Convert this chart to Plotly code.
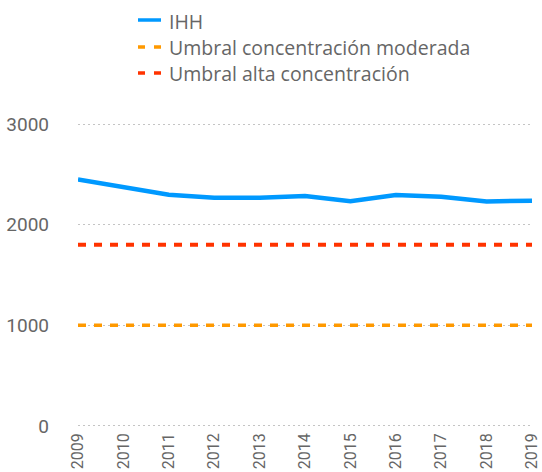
import plotly.graph_objects as go

years = [2009, 2010, 2011, 2012, 2013, 2014, 2015, 2016, 2017, 2018, 2019]
ihh = [2448, 2376, 2297, 2268, 2268, 2284, 2232, 2295, 2277, 2231, 2238]
umbral_moderada = [1000] * len(years)
umbral_alta = [1800] * len(years)
y_ticks = [0, 1000, 2000, 3000]

grey = "#666666"
W, H = 542, 472
ML, MR, MT, MB = 78, 10, 122, 44
PW, PH = W - ML - MR, H - MT - MB

series = [
    ("IHH", ihh, dict(color="#0099ff", width=4.5, dash="solid"), "solid"),
    ("Umbral concentración moderada", umbral_moderada,
     dict(color="#ff9900", width=3.5, dash="8px,8px"), "7px,9px"),
    ("Umbral alta concentración", umbral_alta,
     dict(color="#ff3300", width=4, dash="8px,8px"), "7px,9px"),
]


def px_x(px):
    return (px - ML) / PW


def px_y(py):
    return (H - MB - py) / PH


fig = go.Figure()
shapes, annotations = [], []
legend_rows = [21, 48, 74]
for (name, vals, line, key_dash), row in zip(series, legend_rows):
    fig.add_trace(go.Scatter(x=years, y=vals, mode="lines", name=name,
                             line=line, showlegend=False))
    # legend entry: short line sample + label
    shapes.append(dict(type="line", xref="paper", yref="paper",
                       x0=px_x(138), x1=px_x(161), y0=px_y(row - 1), y1=px_y(row - 1),
                       line=dict(color=line["color"], width=3.5, dash=key_dash)))
    annotations.append(dict(text=name, xref="paper", yref="paper",
                            x=px_x(167), y=px_y(row), xanchor="left", yanchor="middle",
                            showarrow=False,
                            font=dict(family="Open Sans, sans-serif", size=19.5, color=grey)))

fig.update_layout(
    width=W, height=H,
    margin=dict(l=ML, r=MR, t=MT, b=MB),
    paper_bgcolor="white", plot_bgcolor="white",
    font=dict(family="Roboto, sans-serif", color=grey, size=16),
    showlegend=False,
    shapes=shapes, annotations=annotations,
    xaxis=dict(
        range=[2009, 2019], tickvals=years, ticktext=[str(y) for y in years],
        tickangle=-90, tickfont=dict(size=16, color=grey),
        showgrid=False, zeroline=False, showline=False, ticks="",
        automargin=False, ticklabelstandoff=1,
    ),
    yaxis=dict(
        range=[-20, 3020], tickvals=y_ticks, tickfont=dict(size=19, color=grey),
        showgrid=True, gridcolor="#c4c4c4", griddash="2px,3px", gridwidth=1,
        zeroline=False, showline=False, ticks="", ticklabelstandoff=28,
        automargin=False,
    ),
)

fig.write_html("out.html")
